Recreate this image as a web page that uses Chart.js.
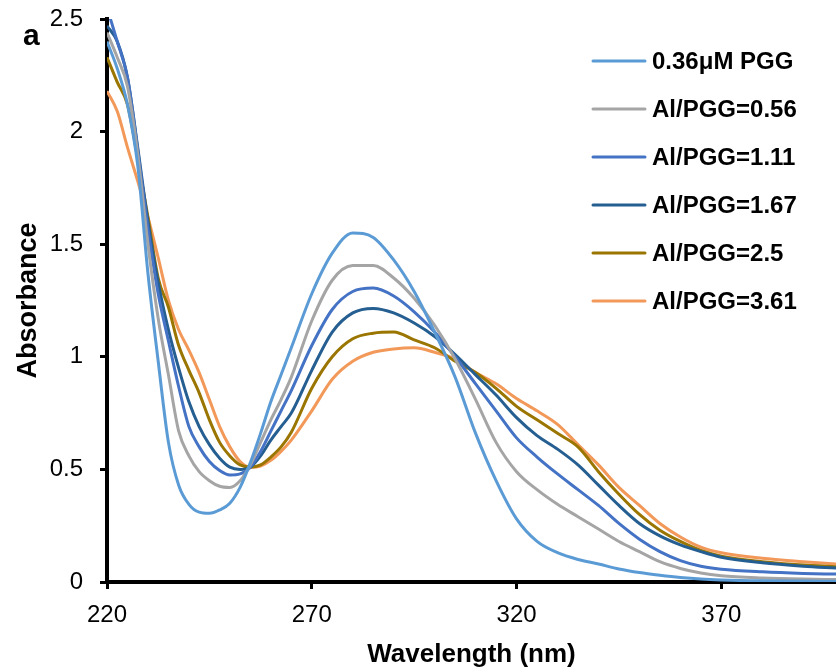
<!DOCTYPE html>
<html>
<head>
<meta charset="utf-8">
<script src="https://cdn.jsdelivr.net/npm/chart.js@4"></script>
<style>
  body { margin: 0; background: #fff; }
  #wrap { position: relative; width: 836px; height: 670px; }
</style>
</head>
<body>
<div id="wrap"><canvas id="spec"></canvas></div>
<script>
// wavelength grid (nm)
const wavelengths = [220, 222.5, 225, 227.5, 230, 232.5, 235, 237.5, 240, 242.5, 245, 247.5, 250, 252.5, 255, 257.5, 260, 262.5, 265,
  270, 275, 280, 285, 290, 295, 300, 305, 310, 315, 320, 325, 330, 335, 340, 345, 350, 355, 360, 365, 370, 380, 390, 398];

const pgg    = [2.40, 2.28, 2.12, 1.85, 1.37, 0.98, 0.62, 0.43, 0.345, 0.31, 0.305, 0.32, 0.35, 0.42, 0.53, 0.66, 0.80, 0.92, 1.04,
  1.28, 1.46, 1.55, 1.53, 1.43, 1.29, 1.11, 0.91, 0.66, 0.45, 0.28, 0.18, 0.13, 0.10, 0.08, 0.058, 0.042, 0.03, 0.02, 0.013, 0.009, 0.005, 0.004, 0.003];
const al056  = [2.44, 2.33, 2.20, 1.90, 1.50, 1.17, 0.92, 0.67, 0.56, 0.49, 0.45, 0.425, 0.42, 0.45, 0.52, 0.62, 0.72, 0.81, 0.91,
  1.16, 1.34, 1.405, 1.405, 1.35, 1.26, 1.14, 0.99, 0.81, 0.62, 0.49, 0.41, 0.345, 0.29, 0.235, 0.18, 0.135, 0.09, 0.06, 0.04, 0.028, 0.018, 0.013, 0.011];
const al111  = [2.55, 2.40, 2.24, 1.92, 1.57, 1.28, 1.07, 0.867, 0.69, 0.60, 0.535, 0.495, 0.475, 0.48, 0.51, 0.58, 0.67, 0.76, 0.85,
  1.05, 1.21, 1.29, 1.305, 1.27, 1.20, 1.11, 1.00, 0.88, 0.76, 0.64, 0.555, 0.48, 0.41, 0.34, 0.26, 0.19, 0.135, 0.095, 0.07, 0.057, 0.045, 0.038, 0.035];
const al167  = [2.47, 2.40, 2.24, 1.93, 1.60, 1.33, 1.12, 0.95, 0.80, 0.69, 0.61, 0.55, 0.51, 0.50, 0.51, 0.56, 0.63, 0.69, 0.75,
  0.94, 1.11, 1.195, 1.215, 1.195, 1.15, 1.09, 1.01, 0.92, 0.83, 0.73, 0.65, 0.59, 0.52, 0.43, 0.34, 0.26, 0.205, 0.165, 0.135, 0.11, 0.085, 0.07, 0.062];
const al250  = [2.33, 2.22, 2.12, 1.88, 1.62, 1.35, 1.22, 1.05, 0.94, 0.84, 0.72, 0.62, 0.56, 0.52, 0.51, 0.52, 0.555, 0.60, 0.665,
  0.86, 1.00, 1.08, 1.105, 1.11, 1.075, 1.04, 0.98, 0.93, 0.86, 0.78, 0.72, 0.66, 0.60, 0.49, 0.39, 0.30, 0.23, 0.18, 0.14, 0.115, 0.09, 0.075, 0.068];
const al361  = [2.18, 2.09, 1.93, 1.78, 1.62, 1.44, 1.25, 1.12, 1.03, 0.93, 0.81, 0.69, 0.60, 0.535, 0.51, 0.515, 0.54, 0.58, 0.63,
  0.76, 0.90, 0.98, 1.02, 1.035, 1.04, 1.02, 0.99, 0.93, 0.88, 0.815, 0.76, 0.70, 0.61, 0.52, 0.42, 0.34, 0.26, 0.20, 0.155, 0.13, 0.105, 0.09, 0.08];

const seriesLabels = ['0.36μM PGG', 'Al/PGG=0.56', 'Al/PGG=1.11', 'Al/PGG=1.67', 'Al/PGG=2.5', 'Al/PGG=3.61'];
const seriesValues = [pgg, al056, al111, al167, al250, al361];
const seriesColors = ['#5B9BD5', '#A5A5A5', '#4472C4', '#255E91', '#9A7500', '#F2995A'];
const xTicks = [220, 270, 320, 370];
const panelLabel = 'a';

const FONT = "'Liberation Sans', Arial, sans-serif";

// legend drawn inside the plot, top right
const sideLegend = {
  id: 'sideLegend',
  afterDraw(chart) {
    const ctx = chart.ctx;
    ctx.save();
    chart.data.datasets.forEach((ds, i) => {
      const y = 61 + i * 48;
      ctx.strokeStyle = ds.borderColor;
      ctx.lineWidth = 3;
      ctx.lineCap = 'round';
      ctx.beginPath();
      ctx.moveTo(593, y);
      ctx.lineTo(645, y);
      ctx.stroke();
      ctx.fillStyle = '#000';
      ctx.font = 'bold 24px ' + FONT;
      ctx.textBaseline = 'middle';
      ctx.textAlign = 'left';
      ctx.fillText(ds.label, 652, y + 1);
    });
    ctx.font = 'bold 30px ' + FONT;
    ctx.textBaseline = 'alphabetic';
    ctx.fillText(panelLabel, 23, 45);
    ctx.restore();
  }
};

const datasets = seriesLabels.map((label, i) => ({
  label: label,
  data: wavelengths.map((w, j) => ({ x: w, y: seriesValues[i][j] })),
  borderColor: seriesColors[i],
  backgroundColor: seriesColors[i],
  borderWidth: 3,
  pointRadius: 0,
  cubicInterpolationMode: 'monotone',
  fill: false
}));

new Chart(document.getElementById('spec'), {
  type: 'line',
  data: { datasets },
  plugins: [sideLegend],
  options: {
    responsive: true,
    maintainAspectRatio: false,
    animation: false,
    layout: { padding: { top: 19, right: 0, bottom: 0, left: 0 } },
    plugins: { legend: { display: false }, tooltip: { enabled: false } },
    scales: {
      x: {
        type: 'linear',
        min: 220,
        max: 398,
        afterBuildTicks: (scale) => { scale.ticks = xTicks.map(v => ({ value: v })); },
        afterFit: (scale) => { scale.height = 88; },
        grid: { drawOnChartArea: false, drawTicks: true, tickLength: 7, tickWidth: 3, tickColor: '#000' },
        border: { display: true, width: 4, color: '#000' },
        ticks: { color: '#000', padding: 12, font: { family: FONT, size: 24 }, maxRotation: 0 },
        title: { display: true, text: 'Wavelength (nm)', color: '#000', padding: { bottom: 0 },
          font: { family: FONT, size: 26, weight: 'bold', lineHeight: 1.2 } }
      },
      y: {
        min: 0,
        max: 2.5,
        afterFit: (scale) => {
          scale.width = 107;
          scale.paddingTop = 0;
          scale.paddingBottom = 0;
        },
        grid: { drawOnChartArea: false, drawTicks: true, tickLength: 7, tickWidth: 3, tickColor: '#000' },
        border: { display: true, width: 4, color: '#000' },
        ticks: { color: '#000', stepSize: 0.5, padding: 17, font: { family: FONT, size: 24 },
          callback: (v) => String(v) },
        title: { display: true, text: 'Absorbance', color: '#000', padding: { top: 12 },
          font: { family: FONT, size: 27, weight: 'bold', lineHeight: 1.2 } }
      }
    }
  }
});
</script>
</body>
</html>
